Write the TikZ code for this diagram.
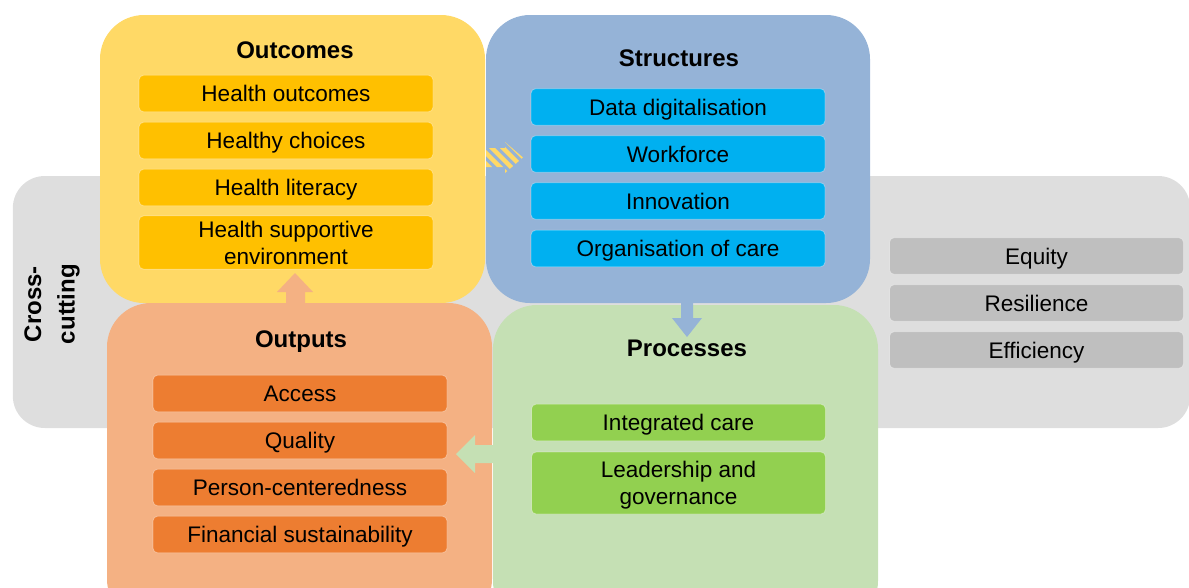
\documentclass[tikz,border=0pt]{standalone}
\usepackage{fontspec}
\setmainfont{Liberation Sans}
\begin{document}
\definecolor{bandgray}{HTML}{DEDEDE}
\definecolor{bargray}{HTML}{BFBFBF}
\definecolor{outcomesbg}{HTML}{FFD966}
\definecolor{outcomesbar}{HTML}{FFC000}
\definecolor{structbg}{HTML}{95B3D7}
\definecolor{structbar}{HTML}{00B0F0}
\definecolor{outputsbg}{HTML}{F4B183}
\definecolor{outputsbar}{HTML}{ED7D31}
\definecolor{processbg}{HTML}{C5E0B4}
\definecolor{processbar}{HTML}{92D050}
\begin{tikzpicture}[x=0.75pt,y=-0.75pt,
  bigbox/.style={rectangle, rounded corners=33pt, inner sep=0pt, draw=none},
  title/.style={font=\fontsize{18}{21}\selectfont\bfseries, inner sep=0pt,
    text height=12.9pt, text depth=0pt},
  bar/.style={rectangle, rounded corners=3.5pt, inner sep=0pt, align=center,
    minimum width=220.5pt, minimum height=27.5pt,
    text height=12.1pt, text depth=0pt,
    draw=white, draw opacity=0.35, line width=0.6pt,
    font=\fontsize{16.9}{20.2}\selectfont},
  tallbar/.style={bar, minimum height=40pt, text height=32.3pt}]
\useasboundingbox (0,0) rectangle (1189,587);
\clip (0,0) rectangle (1189,587);

% cross-cutting band
\node[rectangle, rounded corners=24pt, fill=bandgray, inner sep=0pt,
  minimum width=883pt, minimum height=189pt] (band) at (601.5,302) {};
\node[rotate=90, align=center, inner sep=0pt, font=\fontsize{18}{25}\selectfont\bfseries]
  (cross) at (52,304) {Cross-\\cutting};

% four quadrant panels
\node[bigbox, fill=structbg, minimum width=288pt, minimum height=216pt] (structures) at (678,159) {};
\node[bigbox, fill=outcomesbg, minimum width=288.75pt, minimum height=216pt] (outcomes) at (292.5,159) {};
\node[bigbox, fill=processbg, minimum width=288.75pt, minimum height=240pt] (processes) at (685.5,465) {};
\node[bigbox, fill=outputsbg, minimum width=288.75pt, minimum height=240pt] (outputs) at (299.5,463) {};

% panel titles
\node[title] (tOutcomes) at (295,50) {Outcomes};
\node[title] (tStructures) at (679,58) {Structures};
\node[title] (tOutputs) at (301,339) {Outputs};
\node[title] (tProcesses) at (687,348) {Processes};

% outcomes items
\node[bar, fill=outcomesbar] (o1) at (286,93.5) {Health outcomes};
\node[bar, fill=outcomesbar] (o2) at (286,140.5) {Healthy choices};
\node[bar, fill=outcomesbar] (o3) at (286,187.5) {Health literacy};
\node[tallbar, fill=outcomesbar] (o4) at (286,242.5) {Health supportive\\environment};

% structures items
\node[bar, fill=structbar] (s1) at (678,107) {Data digitalisation};
\node[bar, fill=structbar] (s2) at (678,154) {Workforce};
\node[bar, fill=structbar] (s3) at (678,201) {Innovation};
\node[bar, fill=structbar] (s4) at (678,248.5) {Organisation of care};

% outputs items
\node[bar, fill=outputsbar] (u1) at (300,393.5) {Access};
\node[bar, fill=outputsbar] (u2) at (300,440.5) {Quality};
\node[bar, fill=outputsbar] (u3) at (300,487.5) {Person-centeredness};
\node[bar, fill=outputsbar] (u4) at (300,534.5) {Financial sustainability};

% processes items
\node[bar, fill=processbar] (p1) at (678.5,422.5) {Integrated care};
\node[tallbar, fill=processbar, minimum height=46.5pt] (p2) at (678.5,483) {Leadership and\\governance};

% cross-cutting items
\node[bar, fill=bargray] (c1) at (1036.5,256) {Equity};
\node[bar, fill=bargray] (c2) at (1036.5,303) {Resilience};
\node[bar, fill=bargray] (c3) at (1036.5,350) {Efficiency};

% block arrows between panels
% outcomes -> structures (striped)
\begin{scope}
  \clip (486,148) -- (505,148) -- (505,142) -- (523,157.5) -- (505,173) -- (505,167) -- (486,167) -- cycle;
  \foreach \i in {-70,-59,...,60}
    \draw[outcomesbg, line width=3.2pt] (490+\i,120) -- ++(60,60);
\end{scope}
% structures -> processes
\fill[structbg] (681,300) -- (693,300) -- (693,318) -- (702,318) -- (687,337)
  -- (672,318) -- (681,318) -- cycle;
% processes -> outputs
\fill[processbg] (496,445) -- (496,463) -- (475,463) -- (475,473) -- (456,454)
  -- (475,435) -- (475,445) -- cycle;
% outputs -> outcomes
\fill[outputsbg] (286,306) -- (286,292) -- (277,292) -- (295,273) -- (313,292)
  -- (305,292) -- (305,306) -- cycle;
\end{tikzpicture}
\end{document}
